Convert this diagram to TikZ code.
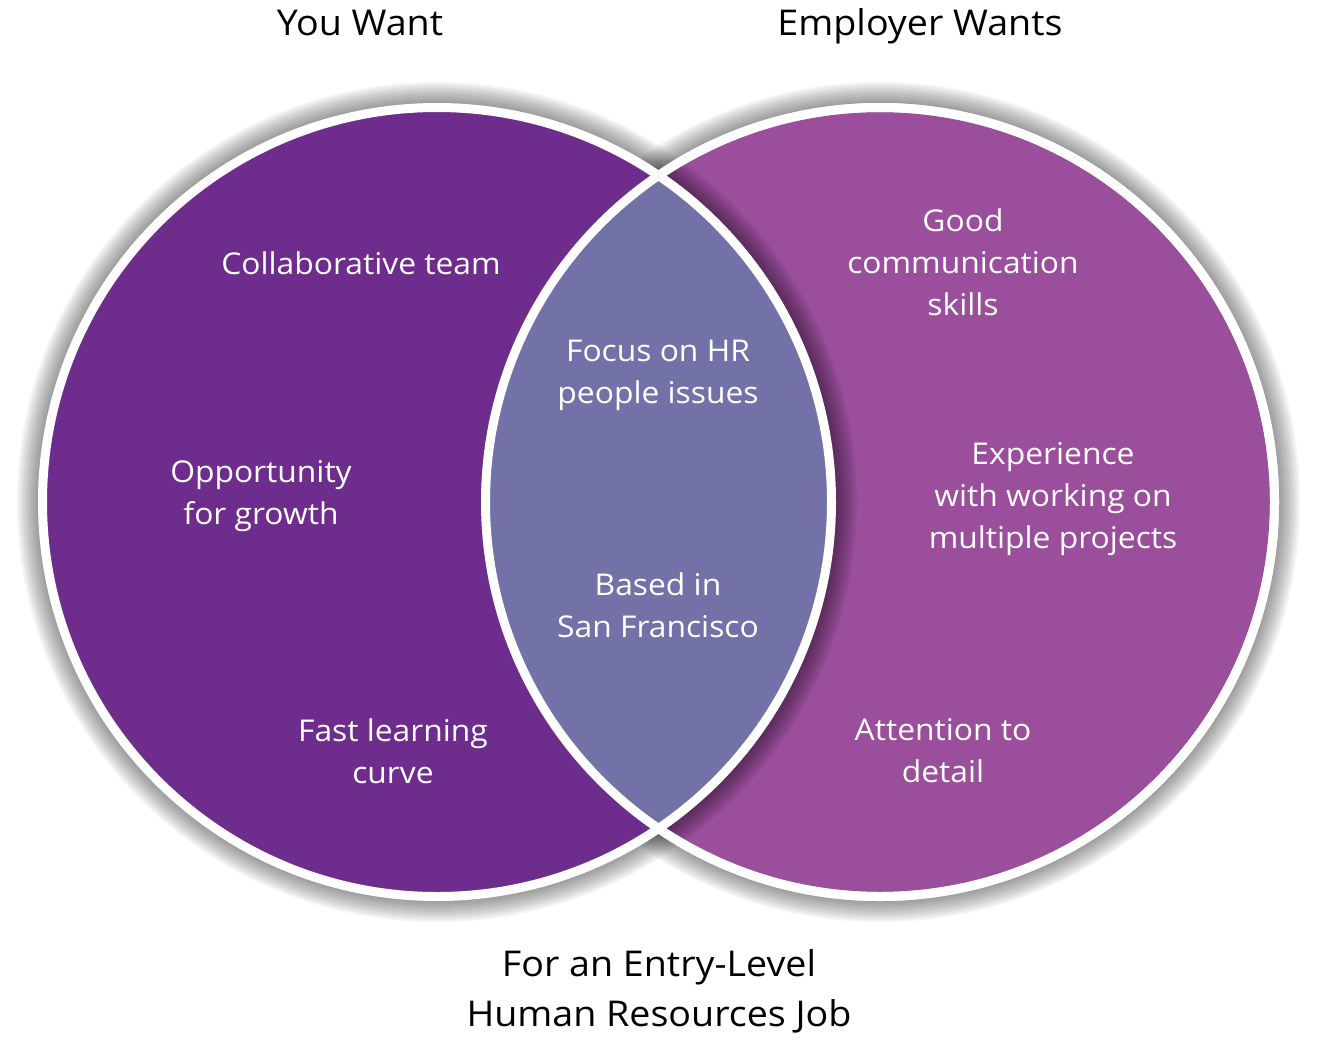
\documentclass[tikz,border=0pt]{standalone}
\usepackage{fontspec}
\setmainfont[FakeStretch=1.06]{Open Sans}
\definecolor{youcol}{RGB}{110,44,140}
\definecolor{empcol}{RGB}{154,78,156}
\definecolor{bothcol}{RGB}{114,114,168}
\begin{document}
\begin{tikzpicture}[x=1pt,y=-1pt]
  \tikzstyle{every node}=[align=center]
  \tikzstyle{inside}=[text=white, font=\fontsize{30}{42}\selectfont]
  \tikzstyle{heading}=[text=black, font=\fontsize{35.5}{50}\selectfont]
  \tikzstyle{ring}=[draw=white, line width=9pt]
  \useasboundingbox (0,0) rectangle (1321,1039);
  \coordinate (you) at (437,502);
  \coordinate (emp) at (880,502);
  % shadows and discs
  \foreach \k in {1,...,11}
    \fill[black, opacity=0.045] (emp) circle (398+2*\k);
  \fill[empcol] (emp) circle (394.5);
  \draw[ring] (emp) circle (394.5);
  \foreach \k in {1,...,11}
    \fill[black, opacity=0.045] (you) circle (398+2*\k);
  \fill[youcol] (you) circle (394.5);
  \begin{scope}
    \clip (emp) circle (394.5);
    \fill[bothcol] (you) circle (394.5);
  \end{scope}
  \draw[ring] (you) circle (394.5);
  \draw[ring] (emp) circle (394.5);
  % titles
  \node[heading, anchor=base] (youtitle) at (360,35) {You Want};
  \node[heading, anchor=base] (emptitle) at (920,35) {Employer Wants};
  \node[heading] (jobtitle) at (659,991) {For an Entry-Level\\Human Resources Job};
  % left
  \node[inside] (team) at (361,263) {Collaborative team};
  \node[inside] (growth) at (261,496) {Opportunity\\for growth};
  \node[inside] (curve) at (393,751) {Fast learning\\curve};
  % middle
  \node[inside] (hr) at (658,375) {Focus on HR\\people issues};
  \node[inside] (sf) at (658,605) {Based in\\San Francisco};
  % right
  \node[inside] (comm) at (963,262) {Good\\communication\\skills};
  \node[inside] (projects) at (1053,499) {Experience\\with working on\\multiple projects};
  \node[inside] (detail) at (943,751) {Attention to\\detail};
\end{tikzpicture}
\end{document}
